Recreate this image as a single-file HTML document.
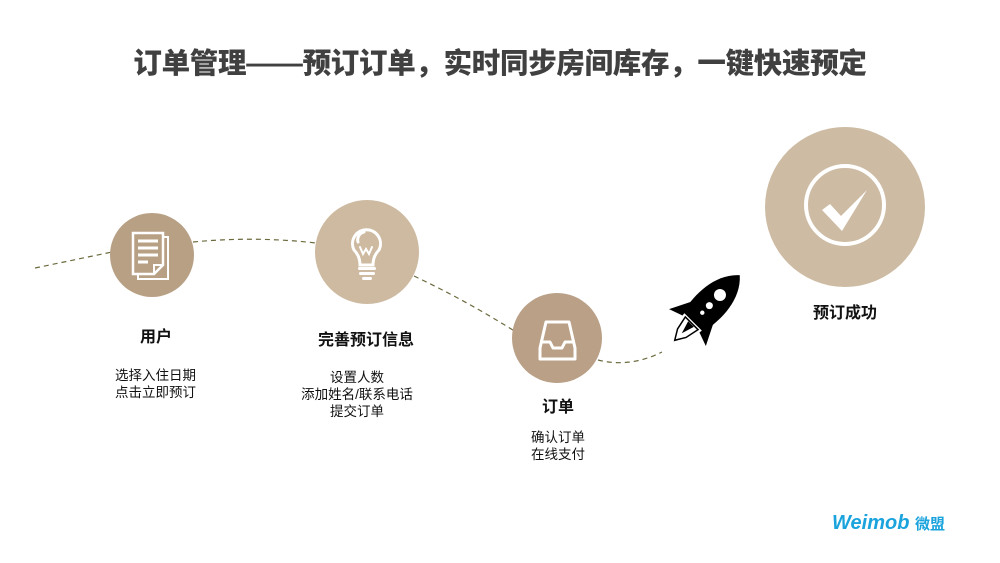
<!DOCTYPE html>
<html><head><meta charset="utf-8"><style>
body{margin:0;width:1000px;height:563px;background:#fff;position:relative;overflow:hidden;font-family:"Liberation Sans","Noto Sans CJK SC",sans-serif;color:#111}
.t{position:absolute;white-space:nowrap;line-height:17px;font-size:13.5px}
.b{font-weight:bold;font-size:16px}
</style></head><body>
<div class="t" style="left:0;width:1000px;top:45px;text-align:center;font-size:28.5px;line-height:38px;font-weight:900;color:#404040;letter-spacing:-0.3px">订单管理——预订订单，实时同步房间库存，一键快速预定</div>
<svg width="1000" height="563" style="position:absolute;left:0;top:0">
<g fill="none" stroke="#6b6a3e" stroke-width="1.2" stroke-dasharray="5,4">
<path d="M35 268 L112 252"/>
<path d="M193 242 Q255 236 316 243"/>
<path d="M414 276 Q465 300 516 332"/>
<path d="M598 360 Q630 368 662 352"/>
</g>
<circle cx="152" cy="255" r="42" fill="#b8a085"/>
<circle cx="367" cy="252" r="52" fill="#cdbaa1"/>
<circle cx="557" cy="338" r="45" fill="#b9a086"/>
<circle cx="845" cy="207" r="80" fill="#cdbba3"/>
<!-- doc icon -->
<path d="M138 237 H168 V279 H138 Z" fill="none" stroke="#fff" stroke-width="2"/>
<path d="M133 233 H163 V265 L154 274 H133 Z" fill="#b8a085" stroke="#fff" stroke-width="2.5"/>
<path d="M154 274 V265 H163" fill="none" stroke="#fff" stroke-width="2"/>
<g stroke="#fff" stroke-width="3"><line x1="138" y1="241" x2="158" y2="241"/><line x1="138" y1="248" x2="158" y2="248"/><line x1="138" y1="255" x2="158" y2="255"/><line x1="138" y1="262" x2="148" y2="262"/></g>
<!-- bulb -->
<g fill="none" stroke="#fff" stroke-width="3" stroke-linecap="round">
<path d="M360 265 Q360 256 354 250 A14 14 0 1 1 379 250 Q373 256 373 265 Z"/>
<path d="M358 242 A8 8 0 0 1 364 232"/>
<path d="M360 247 L363 254 L366 249 L369 254 L372 247" stroke-width="2"/>
</g>
<g fill="#fff"><rect x="358" y="267" width="18" height="3" rx="1.5"/><rect x="359" y="272" width="16" height="3" rx="1.5"/><rect x="362" y="277" width="10" height="3" rx="1.5"/></g>
<!-- tray -->
<g fill="none" stroke="#fff" stroke-width="3" stroke-linejoin="round">
<path d="M540 348 L546 322 H569 L575 348 V359 H540 Z"/>
<path d="M540 342 H550 L553 348 H562 L565 342 H575"/>
</g>
<!-- check -->
<circle cx="845" cy="205" r="39" fill="none" stroke="#fff" stroke-width="4"/>
<path d="M822 210 L830 204 L841 216 L867 190 L842 231 Z" fill="#fff"/>
<!-- rocket -->
<g transform="translate(703,312) rotate(45)">
<path d="M0 -52 C18 -36 19 -8 14 14 L-14 14 C-19 -8 -18 -36 0 -52 Z" fill="#000"/>
<path d="M-14 -2 L-26 22 L-12 17 Z M14 -2 L26 22 L12 17 Z" fill="#000"/>
<circle cx="0" cy="-24" r="6" fill="#fff"/><circle cx="0" cy="-9" r="3.5" fill="#fff"/><circle cx="0" cy="1" r="2.2" fill="#fff"/>
<path d="M-9 16 L-6 30 L0 40 L6 30 L9 16 Z" fill="#fff" stroke="#000" stroke-width="1.5"/>
<path d="M-4 17 L0 30 L4 17 Z" fill="#000"/>
</g>
</svg>
<div class="t b" style="left:116px;width:80px;top:329px;text-align:center">用户</div>
<div class="t" style="left:115px;top:367px">选择入住日期<br>点击立即预订</div>
<div class="t b" style="left:306px;width:120px;top:332px;text-align:center">完善预订信息</div>
<div class="t" style="left:287px;width:140px;top:369px;text-align:center">设置人数<br>添加姓名/联系电话<br>提交订单</div>
<div class="t b" style="left:518px;width:80px;top:399px;text-align:center">订单</div>
<div class="t" style="left:531px;top:429px">确认订单<br>在线支付</div>
<div class="t b" style="left:785px;width:120px;top:305px;text-align:center">预订成功</div>
<div class="t" style="left:832px;top:512px;font-size:20px;line-height:22px;font-weight:bold;font-style:italic;color:#1aa3dc">Weimob <span style="font-size:15px;font-style:normal">微盟</span></div>
</body></html>
